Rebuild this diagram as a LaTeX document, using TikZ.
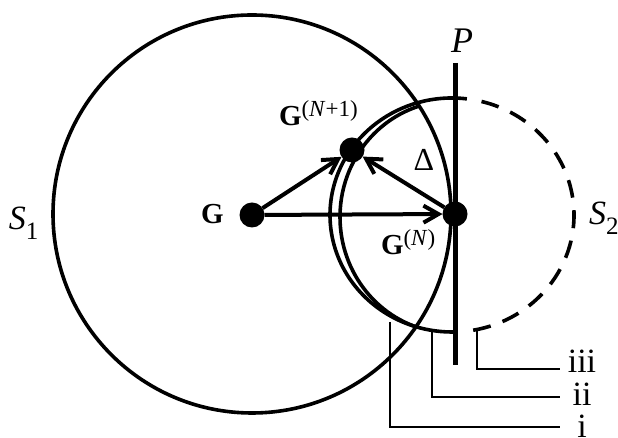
\documentclass[tikz,border=0pt]{standalone}
\usepackage{fontspec}
\setmainfont{Liberation Serif}
\usetikzlibrary{arrows.meta}
\newcommand\gsup[1]{\raisebox{9pt}{\normalfont\fontsize{23}{25}\selectfont(#1)}}
\begin{document}
\begin{tikzpicture}[x=1pt,y=1pt,
  dot/.style={circle,fill=black,minimum size=25pt,inner sep=0pt,outer sep=0pt},
  curve/.style={line width=3.6pt},
  plane/.style={line width=5pt},
  vec/.style={line width=4pt,-{Straight Barb[length=15pt,width=17pt]}},
  callout/.style={line width=1.1pt},
  lab/.style={inner sep=0pt,outer sep=0pt,font=\fontsize{34}{38}\selectfont},
  glab/.style={inner sep=0pt,outer sep=0pt,font=\fontsize{29}{32}\selectfont\bfseries},
]
\useasboundingbox (0,0) rectangle (618,438);

% sphere S1
\draw[curve] (252,224) circle[radius=199pt];

% sphere S2: solid part and dashed part
\draw[curve] ([shift={(83:122pt and 117pt)}]452,223)
  arc[start angle=83,end angle=272,x radius=122pt,y radius=117pt];
\draw[curve,dash pattern=on 18pt off 12.65pt] ([shift={(-80:122pt and 117pt)}]452,223)
  arc[start angle=-80,end angle=76,x radius=122pt,y radius=117pt];

% inner parallel arc (inside S1)
\begin{scope}
  \clip (252,224) circle[radius=199pt];
  \draw[curve] ([shift={(95:112pt and 116pt)}]452,221)
    arc[start angle=95,end angle=265,x radius=112pt,y radius=116pt];
\end{scope}

% plane P
\coordinate (Ptop) at (455,375);
\coordinate (Pbot) at (455,73);
\draw[plane] (Ptop) -- (Pbot);

% points
\node[dot] (G) at (252,223) {};
\node[dot] (GN) at (455,224) {};
\node[dot] (GN1) at (352,288) {};

% vectors
\draw[vec] (G) -- (GN1);
\draw[vec] (G) -- (GN);
\draw[vec] (GN) -- (GN1);

% labels
\node[glab,anchor=base west] (lG) at (201,214) {G};
\node[glab,anchor=base west] (lGN1) at (279,312) {G\gsup{\textit{N}+1}};
\node[glab,anchor=base west] (lGN) at (381,183) {G\gsup{\textit{N}}};
\node[lab,font=\fontsize{32}{36}\selectfont] (lD) at (424,278) {Δ};
\node[lab,anchor=base,font=\fontsize{36}{38}\selectfont] (lP) at (462,385) {\textit{P}};
\node[lab,anchor=base west] (lS1) at (9,208) {\textit{S}\raisebox{-10pt}{\fontsize{25}{27}\selectfont 1}};
\node[lab,anchor=base west] (lS2) at (589,213) {\textit{S}\raisebox{-10pt}{\fontsize{25}{27}\selectfont 2}};

% callouts
\node[lab,anchor=base] (liii) at (582,65) {iii};
\node[lab,anchor=base] (lii) at (582,32) {ii};
\node[lab,anchor=base] (li) at (582,0) {i};

\coordinate (ciii) at (477,108);
\coordinate (cii) at (432,106);
\coordinate (ci) at (390,116);
\coordinate (eiii) at (560,69);
\coordinate (eii) at (560,41);
\coordinate (ei) at (560,11);
\draw[callout] (ciii) |- (eiii);
\draw[callout] (cii) |- (eii);
\draw[callout] (ci) |- (ei);
\end{tikzpicture}
\end{document}
